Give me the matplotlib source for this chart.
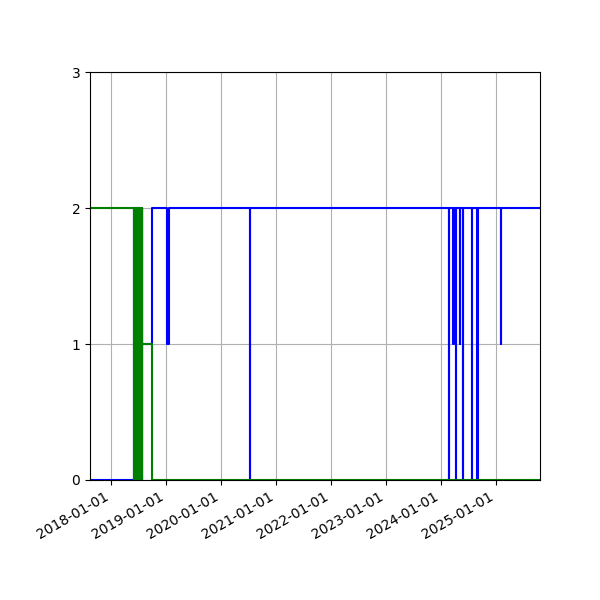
import numpy as np
import pandas as pd
import matplotlib
matplotlib.use('Agg')
import matplotlib.pyplot as plt
import matplotlib.dates as mdates

# change points (steps-post): value holds from each date until the next
green_dates = [
    "2017-08-15", "2018-06-03", "2018-06-06", "2018-06-09", "2018-06-12",
    "2018-06-15", "2018-06-18", "2018-06-21", "2018-06-24", "2018-06-27",
    "2018-06-30", "2018-07-03", "2018-07-06", "2018-07-09", "2018-07-12",
    "2018-07-15", "2018-07-18", "2018-07-21", "2018-07-24", "2018-07-27",
    "2018-07-29", "2018-09-28", "2025-10-20",
]
green_vals = [
    2, 0, 2, 0, 2,
    0, 2, 0, 2, 0,
    2, 0, 2, 0, 2,
    0, 2, 0, 2, 0,
    1, 0, 0,
]

blue_dates = [
    "2017-08-15", "2018-06-04", "2018-06-07", "2018-06-09", "2018-06-13",
    "2018-06-15", "2018-06-19", "2018-06-21", "2018-06-25", "2018-06-27",
    "2018-07-01", "2018-07-03", "2018-07-07", "2018-07-09", "2018-07-13",
    "2018-07-15", "2018-07-19", "2018-07-21", "2018-07-25", "2018-07-27",
    "2018-07-29", "2018-09-28",
    "2019-01-10", "2019-01-19",
    "2020-07-11", "2020-07-12",
    "2024-02-25", "2024-02-27",
    "2024-03-24", "2024-03-26",
    "2024-04-08", "2024-04-10",
    "2024-05-06", "2024-05-08",
    "2024-05-26", "2024-05-28",
    "2024-07-26", "2024-07-28",
    "2024-08-31", "2024-09-02",
    "2025-02-01", "2025-02-03",
    "2025-10-20",
]
blue_vals = [
    0, 2, 0, 2, 0,
    2, 0, 2, 0, 2,
    0, 2, 0, 2, 0,
    2, 0, 2, 0, 2,
    1, 2,
    1, 2,
    0, 2,
    0, 2,
    1, 2,
    0, 2,
    1, 2,
    0, 2,
    0, 2,
    0, 2,
    1, 2,
    2,
]

g_x = pd.to_datetime(green_dates)
b_x = pd.to_datetime(blue_dates)

fig, ax = plt.subplots(figsize=(6, 6), dpi=100)
ax.plot(b_x, blue_vals, drawstyle='steps-post', color='blue')
ax.plot(g_x, green_vals, drawstyle='steps-post', color='green')

ax.set_ylim(0, 3)
ax.set_yticks([0, 1, 2, 3])
ax.set_xlim(g_x[0], g_x[-1])
ax.xaxis.set_major_locator(mdates.YearLocator())
ax.xaxis.set_major_formatter(mdates.DateFormatter('%Y-%m-%d'))
ax.grid(True)

fig.autofmt_xdate()
plt.subplots_adjust(left=0.15, right=0.9, bottom=0.2, top=0.88)
plt.savefig('out.png')
plt.close(fig)
